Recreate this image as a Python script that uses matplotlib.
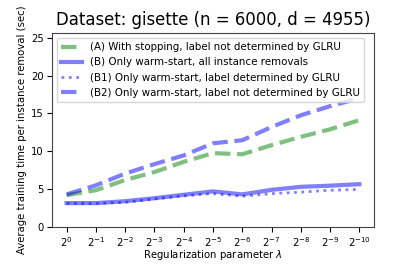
import matplotlib
matplotlib.use("Agg")
import matplotlib.pyplot as plt
import numpy as np

exponents = [0, -1, -2, -3, -4, -5, -6, -7, -8, -9, -10]
tick_labels = [f"$2^{{{e}}}$" for e in exponents]

series_A = [4.2, 4.85, 6.2, 7.25, 8.6, 9.75, 9.6, 10.8, 11.9, 12.9, 14.1]
series_B = [3.15, 3.15, 3.4, 3.8, 4.25, 4.7, 4.3, 4.9, 5.3, 5.45, 5.65]
series_B1 = [3.1, 3.1, 3.25, 3.7, 4.1, 4.4, 4.05, 4.4, 4.6, 4.85, 4.95]
series_B2 = [4.3, 5.5, 7.05, 8.3, 9.45, 11.05, 11.45, 13.2, 14.75, 15.95, 17.0]

labels = [
    "(A) With stopping, label not determined by GLRU",
    "(B) Only warm-start, all instance removals",
    "(B1) Only warm-start, label determined by GLRU",
    "(B2) Only warm-start, label not determined by GLRU",
]

fig = plt.figure(figsize=(4.16, 2.67), dpi=100)
ax = fig.add_axes([0.125, 0.15, 0.774, 0.726])
x = np.arange(len(exponents))
ax.plot(x, series_A, color="green", alpha=0.5, lw=3, ls="--", label=labels[0])
ax.plot(x, series_B, color="blue", alpha=0.5, lw=3, ls="-", label=labels[1])
ax.plot(x, series_B1, color="blue", alpha=0.5, lw=2, ls=":", label=labels[2])
ax.plot(x, series_B2, color="blue", alpha=0.5, lw=3, ls="--", label=labels[3])

ax.set_xlim(-0.5, 10.5)
ax.set_ylim(0, 25.6)
ax.set_xticks(x)
ax.set_xticklabels(tick_labels, fontsize=7.2)
ax.set_yticks([0, 5, 10, 15, 20, 25])
ax.tick_params(axis="y", labelsize=7.2, pad=2.5)
ax.tick_params(axis="x", pad=2.5)
for s in ax.spines.values():
    s.set_color("#444444")

renderer = fig.canvas.get_renderer()

def fit(text_obj, target_px, horizontal=True):
    fs = text_obj.get_fontsize()
    bb = text_obj.get_window_extent(renderer)
    w = bb.width if horizontal else bb.height
    if w > 0:
        text_obj.set_fontsize(fs * target_px / w)

xl = ax.set_xlabel("Regularization parameter $\\lambda$", fontsize=8)
yl = ax.set_ylabel("Average training time per instance removal (sec)", fontsize=8)
tt = ax.set_title("Dataset: gisette (n = 6000, d = 4955)", fontsize=12)
fit(xl, 140)
fit(yl, 252, horizontal=False)
fit(tt, 314)
xl.set_verticalalignment("top")
ax.xaxis.set_label_coords(0.5, -0.11)
yl.set_verticalalignment("center")
ax.yaxis.set_label_coords(-0.092, 0.5)

probe = fig.text(0, 0, labels[0], fontsize=8)
pb = probe.get_window_extent(renderer)
leg_fs = 8 * 251 / pb.width
probe.remove()
ax.legend(loc="upper left", fontsize=leg_fs)

fig.savefig("out.png", dpi=100)
